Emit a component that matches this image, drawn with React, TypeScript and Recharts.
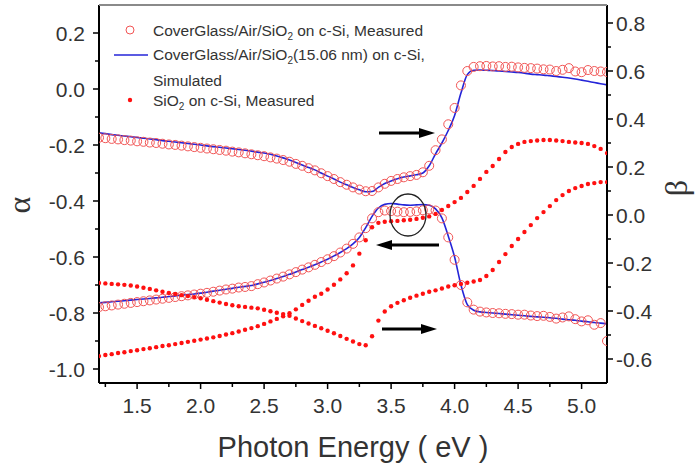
import React from 'react';
import { ComposedChart, Line, XAxis, YAxis } from 'recharts';

// photon energy (eV), shared by every series
const energy = [
  1.2, 1.25, 1.3, 1.35, 1.4, 1.45, 1.5, 1.55, 1.6, 1.65, 1.7, 1.75, 1.8, 1.85, 1.9, 1.95,
  2.0, 2.05, 2.1, 2.15, 2.2, 2.25, 2.3, 2.35, 2.4, 2.45, 2.5, 2.55, 2.6, 2.65, 2.7, 2.75,
  2.8, 2.85, 2.9, 2.95, 3.0, 3.05, 3.1, 3.15, 3.2, 3.25, 3.3, 3.35, 3.4, 3.45, 3.5, 3.55,
  3.6, 3.65, 3.7, 3.75, 3.8, 3.85, 3.9, 3.95, 4.0, 4.05, 4.1, 4.15, 4.2, 4.25, 4.3, 4.35,
  4.4, 4.45, 4.5, 4.55, 4.6, 4.65, 4.7, 4.75, 4.8, 4.85, 4.9, 4.95, 5.0, 5.05, 5.1, 5.15, 5.2,
];

// CoverGlass/Air/SiO2 on c-Si, measured (open circles)
const measBeta = [
  0.322, 0.32, 0.317, 0.315, 0.312, 0.31, 0.307, 0.305, 0.302, 0.3, 0.297, 0.294, 0.292, 0.289, 0.286, 0.283,
  0.28, 0.277, 0.274, 0.271, 0.268, 0.264, 0.261, 0.257, 0.253, 0.249, 0.245, 0.24, 0.235, 0.229, 0.222, 0.213,
  0.205, 0.195, 0.186, 0.174, 0.162, 0.15, 0.137, 0.126, 0.115, 0.106, 0.099, 0.1, 0.115, 0.13, 0.142, 0.15,
  0.157, 0.162, 0.167, 0.178, 0.205, 0.27, 0.315, 0.378, 0.446, 0.54, 0.6, 0.617, 0.62, 0.621, 0.619, 0.62,
  0.617, 0.618, 0.615, 0.613, 0.612, 0.61, 0.607, 0.606, 0.6, 0.605, 0.612, 0.598, 0.595, 0.604, 0.6, 0.598, 0.596,
];
const measAlpha = [
  -0.779, -0.776, -0.773, -0.77, -0.767, -0.764, -0.761, -0.758, -0.755, -0.752, -0.749, -0.746, -0.743, -0.74, -0.737, -0.734,
  -0.731, -0.728, -0.724, -0.72, -0.716, -0.713, -0.709, -0.707, -0.704, -0.697, -0.691, -0.684, -0.677, -0.67, -0.662, -0.654,
  -0.645, -0.637, -0.628, -0.618, -0.608, -0.597, -0.584, -0.57, -0.553, -0.53, -0.497, -0.462, -0.44, -0.434, -0.436, -0.438,
  -0.44, -0.439, -0.437, -0.433, -0.43, -0.434, -0.462, -0.53, -0.61, -0.7, -0.762, -0.788, -0.795, -0.798, -0.8, -0.801,
  -0.803, -0.804, -0.806, -0.806, -0.809, -0.811, -0.81, -0.814, -0.82, -0.816, -0.812, -0.822, -0.83, -0.826, -0.842, -0.836, -0.9,
];

// CoverGlass/Air/SiO2 (15.06 nm) on c-Si, simulated (blue lines)
const simBeta = [
  0.342, 0.339, 0.335, 0.332, 0.329, 0.326, 0.323, 0.32, 0.317, 0.314, 0.31, 0.307, 0.304, 0.301, 0.298, 0.295,
  0.292, 0.288, 0.285, 0.282, 0.279, 0.276, 0.273, 0.27, 0.266, 0.262, 0.258, 0.253, 0.246, 0.238, 0.229, 0.219,
  0.208, 0.198, 0.188, 0.175, 0.162, 0.15, 0.137, 0.126, 0.115, 0.105, 0.097, 0.098, 0.115, 0.131, 0.142, 0.151,
  0.158, 0.163, 0.168, 0.175, 0.205, 0.255, 0.3, 0.352, 0.415, 0.508, 0.585, 0.603, 0.604, 0.603, 0.602, 0.6,
  0.598, 0.596, 0.594, 0.591, 0.587, 0.585, 0.583, 0.58, 0.577, 0.574, 0.571, 0.567, 0.562, 0.557, 0.552, 0.547, 0.542,
];
const simAlpha = [
  -0.764, -0.762, -0.76, -0.758, -0.756, -0.754, -0.752, -0.75, -0.748, -0.746, -0.744, -0.741, -0.739, -0.736, -0.734, -0.732,
  -0.729, -0.726, -0.722, -0.719, -0.715, -0.712, -0.708, -0.705, -0.702, -0.696, -0.69, -0.684, -0.677, -0.67, -0.662, -0.654,
  -0.645, -0.637, -0.628, -0.618, -0.608, -0.596, -0.584, -0.57, -0.553, -0.53, -0.495, -0.455, -0.425, -0.412, -0.409, -0.411,
  -0.414, -0.415, -0.414, -0.413, -0.415, -0.428, -0.46, -0.525, -0.6, -0.7, -0.77, -0.79, -0.796, -0.798, -0.8, -0.802,
  -0.804, -0.806, -0.808, -0.81, -0.812, -0.814, -0.815, -0.817, -0.819, -0.822, -0.824, -0.826, -0.829, -0.831, -0.834, -0.836, -0.839,
];

// SiO2 on c-Si, measured (red dots)
const sio2Beta = [
  -0.283, -0.285, -0.287, -0.289, -0.291, -0.294, -0.298, -0.303, -0.308, -0.314, -0.32, -0.325, -0.329, -0.334, -0.338, -0.342,
  -0.347, -0.353, -0.359, -0.365, -0.371, -0.376, -0.38, -0.383, -0.386, -0.389, -0.395, -0.401, -0.407, -0.413, -0.42, -0.431,
  -0.442, -0.452, -0.462, -0.472, -0.482, -0.493, -0.504, -0.516, -0.527, -0.538, -0.543, -0.505, -0.44, -0.402, -0.38, -0.366,
  -0.355, -0.345, -0.336, -0.328, -0.32, -0.314, -0.306, -0.298, -0.293, -0.287, -0.282, -0.277, -0.271, -0.254, -0.229, -0.196,
  -0.163, -0.129, -0.1, -0.071, -0.042, -0.013, 0.012, 0.037, 0.062, 0.083, 0.1, 0.112, 0.121, 0.129, 0.133, 0.137, 0.137,
];
const sio2Alpha = [
  -0.954, -0.95, -0.947, -0.943, -0.94, -0.936, -0.933, -0.929, -0.926, -0.922, -0.918, -0.915, -0.911, -0.907, -0.903, -0.899,
  -0.895, -0.891, -0.887, -0.882, -0.877, -0.872, -0.866, -0.86, -0.854, -0.847, -0.839, -0.83, -0.821, -0.812, -0.801, -0.787,
  -0.771, -0.756, -0.742, -0.731, -0.716, -0.699, -0.68, -0.658, -0.63, -0.588, -0.54, -0.494, -0.478, -0.474, -0.472, -0.471,
  -0.469, -0.467, -0.464, -0.46, -0.455, -0.446, -0.432, -0.418, -0.404, -0.389, -0.368, -0.346, -0.321, -0.296, -0.275, -0.25,
  -0.225, -0.207, -0.196, -0.189, -0.186, -0.184, -0.182, -0.182, -0.184, -0.186, -0.189, -0.191, -0.193, -0.196, -0.204, -0.214, -0.229,
];

const xMajor = [1.5, 2.0, 2.5, 3.0, 3.5, 4.0, 4.5, 5.0];
const xMinor = [1.25, 1.75, 2.25, 2.75, 3.25, 3.75, 4.25, 4.75];
const alphaMajor = [-1.0, -0.8, -0.6, -0.4, -0.2, 0.0, 0.2];
const alphaMinor = [-0.9, -0.7, -0.5, -0.3, -0.1, 0.1];
const betaMajor = [-0.6, -0.4, -0.2, 0.0, 0.2, 0.4, 0.6, 0.8];
const betaMinor = [-0.5, -0.3, -0.1, 0.1, 0.3, 0.5, 0.7];

const data = energy.map((e, i) => ({
  e,
  measBeta: measBeta[i],
  measAlpha: measAlpha[i],
  simBeta: simBeta[i],
  simAlpha: simAlpha[i],
  sio2Beta: sio2Beta[i],
  sio2Alpha: sio2Alpha[i],
}));

const FONT = '"Liberation Sans", Arial, sans-serif';
const TEXT = '#333';
const CIRCLE = '#f25555';
const DOT = '#ff1010';
const BLUE = '#2424d8';

const makeTick = (side: 'left' | 'right' | 'bottom', majors: number[]) => (props: any) => {
  const { x, y, payload } = props;
  const v = payload.value;
  const major = majors.includes(v);
  const len = major ? 6 : 4;
  const label = major ? v.toFixed(1) : '';
  if (side === 'bottom') {
    return (
      <g>
        <line x1={x} y1={y} x2={x} y2={y + len} stroke="#000" strokeWidth={1.5} />
        <text x={x} y={y + 30} textAnchor="middle" fontFamily={FONT} fontSize={21} fill={TEXT}>{label}</text>
      </g>
    );
  }
  const sign = side === 'left' ? -1 : 1;
  return (
    <g>
      <line x1={x} y1={y} x2={x + sign * len} y2={y} stroke="#000" strokeWidth={1.5} />
      <text
        x={side === 'left' ? x - 14 : x + 9}
        y={y + 7.5}
        textAnchor={side === 'left' ? 'end' : 'start'}
        fontFamily={FONT}
        fontSize={21}
        fill={TEXT}
      >
        {label}
      </text>
    </g>
  );
};

const Arrow = ({ x1, x2, y }: { x1: number; x2: number; y: number }) => {
  // arrow pointing from x1 towards x2
  const dir = x2 > x1 ? 1 : -1;
  const hx = x2 - dir * 16;
  return (
    <g>
      <line x1={x1} y1={y} x2={hx} y2={y} stroke="#000" strokeWidth={3} />
      <polygon points={`${hx},${y - 5} ${x2},${y} ${hx},${y + 5}`} fill="#000" />
    </g>
  );
};

const Overlay = () => (
  <svg width={698} height={463} style={{ position: 'absolute', left: 0, top: 0, pointerEvents: 'none' }}>
    <line x1={99} y1={5} x2={607} y2={5} stroke="#8a8a8a" strokeWidth={2} />

    {/* legend */}
    <circle cx={130} cy={30} r={4} fill="none" stroke={CIRCLE} strokeWidth={1} />
    <text x={153} y={36} fontFamily={FONT} fontSize={15.5} fill={TEXT}>
      CoverGlass/Air/SiO<tspan fontSize={10} dy={4}>2</tspan><tspan dy={-4}> on c-Si, Measured</tspan>
    </text>
    <line x1={114} y1={55} x2={148} y2={55} stroke={BLUE} strokeWidth={1.6} />
    <text x={153} y={60} fontFamily={FONT} fontSize={15.5} fill={TEXT}>
      CoverGlass/Air/SiO<tspan fontSize={10} dy={4}>2</tspan><tspan dy={-4}>(15.06 nm) on c-Si,</tspan>
    </text>
    <text x={153} y={86} fontFamily={FONT} fontSize={15.5} fill={TEXT}>Simulated</text>
    <circle cx={130} cy={100} r={2.2} fill={DOT} />
    <text x={153} y={106} fontFamily={FONT} fontSize={15.5} fill={TEXT}>
      SiO<tspan fontSize={10} dy={4}>2</tspan><tspan dy={-4}> on c-Si, Measured</tspan>
    </text>

    {/* annotations */}
    <Arrow x1={379} x2={435} y={133} />
    <Arrow x1={439} x2={376} y={245} />
    <Arrow x1={382} x2={437} y={329} />
    <ellipse cx={408} cy={215} rx={18} ry={21} fill="none" stroke="#222" strokeWidth={1.3} />

    {/* axis titles */}
    <text x={353} y={457} textAnchor="middle" fontFamily={FONT} fontSize={29} fill={TEXT}>Photon Energy ( eV )</text>
    <text x={0} y={0} transform="translate(30,205) rotate(-90)" textAnchor="middle" fontFamily='"Liberation Serif", serif' fontSize={32} fill={TEXT}>α</text>
    <text x={0} y={0} transform="translate(687,188) rotate(-90)" textAnchor="middle" fontFamily='"Liberation Serif", serif' fontSize={32} fill={TEXT}>β</text>
  </svg>
);

export default function App() {
  return (
    <div style={{ position: 'absolute', left: 0, top: 0, width: 698, height: 463, background: '#fff' }}>
      <ComposedChart width={698} height={463} data={data} margin={{ top: 5, right: 0, bottom: 0, left: 0 }}>
        <XAxis
          dataKey="e"
          type="number"
          domain={[1.2, 5.2]}
          ticks={[...xMajor, ...xMinor]}
          interval={0}
          height={80}
          tickSize={0}
          tickMargin={0}
          tickLine={false}
          axisLine={{ stroke: '#000', strokeWidth: 2 }}
          tick={makeTick('bottom', xMajor)}
          allowDataOverflow
        />
        <YAxis
          yAxisId="left"
          orientation="left"
          type="number"
          domain={[-1.05, 0.3]}
          ticks={[...alphaMajor, ...alphaMinor]}
          interval={0}
          width={99}
          tickSize={0}
          tickMargin={0}
          tickLine={false}
          axisLine={{ stroke: '#000', strokeWidth: 2 }}
          tick={makeTick('left', alphaMajor)}
          allowDataOverflow
        />
        <YAxis
          yAxisId="right"
          orientation="right"
          type="number"
          domain={[-0.7, 0.875]}
          ticks={[...betaMajor, ...betaMinor]}
          interval={0}
          width={91}
          tickSize={0}
          tickMargin={0}
          tickLine={false}
          axisLine={{ stroke: '#000', strokeWidth: 2 }}
          tick={makeTick('right', betaMajor)}
          allowDataOverflow
        />
        <Line yAxisId="right" dataKey="measBeta" stroke="none" dot={{ r: 4.5, fill: 'none', stroke: CIRCLE, strokeWidth: 1 }} activeDot={false} isAnimationActive={false} />
        <Line yAxisId="left" dataKey="measAlpha" stroke="none" dot={{ r: 4.5, fill: 'none', stroke: CIRCLE, strokeWidth: 1 }} activeDot={false} isAnimationActive={false} />
        <Line yAxisId="right" dataKey="simBeta" type="monotone" stroke={BLUE} strokeWidth={1.6} dot={false} activeDot={false} isAnimationActive={false} />
        <Line yAxisId="left" dataKey="simAlpha" type="monotone" stroke={BLUE} strokeWidth={1.6} dot={false} activeDot={false} isAnimationActive={false} />
        <Line yAxisId="right" dataKey="sio2Beta" stroke="none" dot={{ r: 2.2, fill: DOT, stroke: 'none' }} activeDot={false} isAnimationActive={false} />
        <Line yAxisId="left" dataKey="sio2Alpha" stroke="none" dot={{ r: 2.2, fill: DOT, stroke: 'none' }} activeDot={false} isAnimationActive={false} />
      </ComposedChart>
      <Overlay />
    </div>
  );
}
